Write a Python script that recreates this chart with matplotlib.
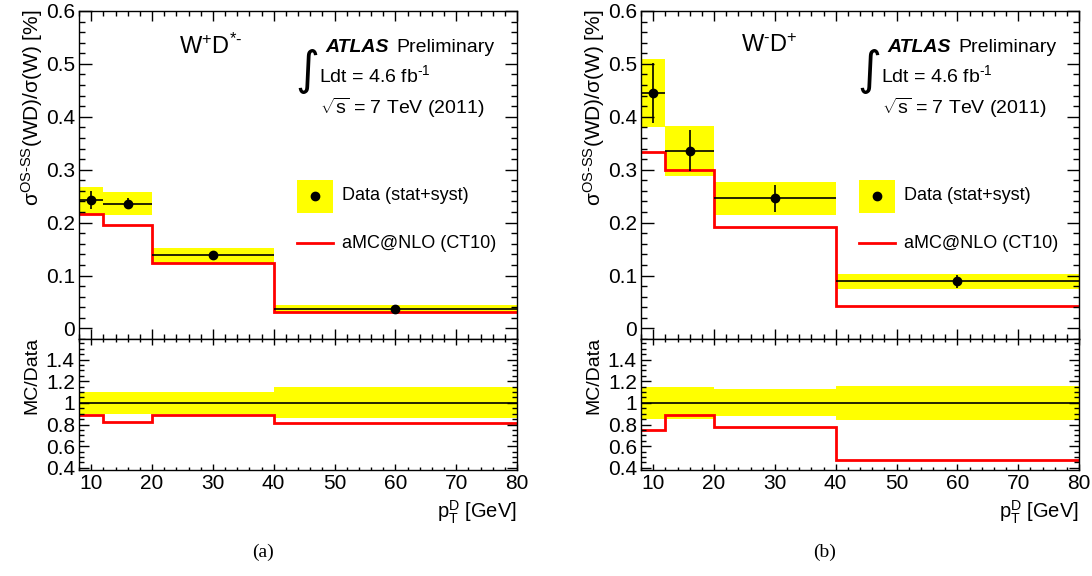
import matplotlib
matplotlib.use('Agg')
import matplotlib.pyplot as plt
from matplotlib.patches import Rectangle
from matplotlib.lines import Line2D
from matplotlib.ticker import MultipleLocator, FormatStrFormatter

plt.rcParams['font.family'] = ['Liberation Sans', 'DejaVu Sans']
plt.rcParams['mathtext.fontset'] = 'custom'
plt.rcParams['mathtext.rm'] = 'Liberation Sans'
plt.rcParams['mathtext.it'] = 'Liberation Sans:italic'
plt.rcParams['mathtext.bf'] = 'Liberation Sans:bold'

# pT(D) bins [GeV]
edges = [8, 12, 20, 40, 80]
centres = [10, 16, 30, 60]

# W+D*- : sigma(OS-SS)(WD)/sigma(W) [%]
dstar_data = [0.242, 0.236, 0.138, 0.037]
dstar_stat = [0.017, 0.010, 0.004, 0.002]
dstar_tot = [0.026, 0.022, 0.014, 0.007]
dstar_mc = [0.217, 0.195, 0.124, 0.031]
dstar_ratio = [0.89, 0.82, 0.886, 0.81]
dstar_ratio_err = [0.105, 0.10, 0.10, 0.143]

# W-D+
dplus_data = [0.445, 0.336, 0.246, 0.089]
dplus_stat = [0.056, 0.039, 0.025, 0.012]
dplus_tot = [0.065, 0.047, 0.031, 0.014]
dplus_mc = [0.334, 0.300, 0.192, 0.042]
dplus_ratio = [0.75, 0.89, 0.774, 0.47]
dplus_ratio_err = [0.145, 0.145, 0.125, 0.16]

W, H = 1092, 576
fig = plt.figure(figsize=(W / 100, H / 100), dpi=100)


def fx(px):
    return px / W


def fy(py):
    return 1 - py / H


def style_axes(ax, ymaj, ymin, ylen, xlen):
    ax.set_xlim(8, 80)
    ax.xaxis.set_major_locator(MultipleLocator(10))
    ax.xaxis.set_minor_locator(MultipleLocator(2))
    ax.yaxis.set_major_locator(MultipleLocator(ymaj))
    ax.yaxis.set_minor_locator(MultipleLocator(ymin))
    ax.yaxis.set_major_formatter(FormatStrFormatter('%g'))
    ax.tick_params(which='both', direction='in', top=True, right=True,
                   width=1, labelsize=15, pad=3)
    ax.tick_params(axis='y', which='major', length=ylen)
    ax.tick_params(axis='y', which='minor', length=ylen / 2)
    ax.tick_params(axis='x', which='major', length=xlen)
    ax.tick_params(axis='x', which='minor', length=xlen / 2)
    for s in ax.spines.values():
        s.set_linewidth(1)


def draw_panel(x0, data, stat, tot, mc, ratio, ratio_err, title, tag):
    left = fx(x0)
    width = 438 / W
    top = fig.add_axes([left, fy(339), width, 328 / H])
    bot = fig.add_axes([left, fy(470), width, 131 / H])

    # upper: cross-section ratio
    for i in range(len(centres)):
        top.fill_between([edges[i], edges[i + 1]], data[i] - tot[i], data[i] + tot[i],
                         color='#ffff00', lw=0)
    top.stairs(mc, edges, baseline=None, color='#ff0000', lw=2)
    xerr = [[c - edges[i] for i, c in enumerate(centres)],
            [edges[i + 1] - c for i, c in enumerate(centres)]]
    top.errorbar(centres, data, xerr=xerr, yerr=stat, fmt='o', color='black',
                 ms=6, elinewidth=1.2, capsize=0)
    top.set_ylim(-0.02, 0.6)
    style_axes(top, 0.1, 0.02, 9, 7)
    top.tick_params(labelbottom=False)

    # lower: MC/Data
    for i in range(len(centres)):
        bot.fill_between([edges[i], edges[i + 1]], 1 - ratio_err[i], 1 + ratio_err[i],
                         color='#ffff00', lw=0)
    bot.axhline(1, color='black', lw=1.2)
    bot.stairs(ratio, edges, baseline=None, color='#ff0000', lw=2)
    bot.set_ylim(0.38, 1.59)
    style_axes(bot, 0.2, 0.05, 7, 4)

    off = x0 - 79
    fig.text(fx(32 + off), fy(10), r'σ$^{\text{OS-SS}}$(WD)/σ(W) [%]',
             rotation=90, ha='center', va='top', fontsize=15)
    fig.text(fx(32 + off), fy(337), 'MC/Data', rotation=90, ha='center', va='top',
             fontsize=14)
    fig.text(fx(517 + off), fy(518), r'$\mathrm{p}_{\mathrm{T}}^{\mathrm{D}}$ [GeV]',
             ha='right', va='baseline', fontsize=14.5)

    fig.text(fx(179 + off), fy(46), title, ha='left', va='center', fontsize=17)
    fig.text(fx(325 + off), fy(52), 'ATLAS', ha='left', va='baseline', fontsize=14,
             fontweight='bold', fontstyle='italic')
    fig.text(fx(396 + off), fy(52), 'Preliminary', ha='left', va='baseline', fontsize=14)
    fig.text(fx(307 + off), fy(72), '∫', ha='center', va='center', fontsize=33,
             family=['DejaVu Sans'])
    fig.text(fx(319 + off), fy(82), r'Ldt = 4.6 fb$^{\text{-1}}$', ha='left',
             va='baseline', fontsize=14)
    fig.text(fx(320 + off), fy(114), r'$\sqrt{\mathrm{s}}$ = 7 TeV (2011)', ha='left',
             va='baseline', fontsize=14)

    # legend
    fig.add_artist(Rectangle((fx(297 + off), fy(213)), 36 / W, 33 / H,
                             transform=fig.transFigure, color='#ffff00', lw=0))
    fig.add_artist(Line2D([fx(315 + off)], [fy(196)], marker='o', ms=6, color='black',
                          transform=fig.transFigure))
    fig.text(fx(342 + off), fy(196), 'Data (stat+syst)', ha='left', va='center',
             fontsize=13)
    fig.add_artist(Line2D([fx(297 + off), fx(333 + off)], [fy(243), fy(243)],
                          color='#ff0000', lw=2, transform=fig.transFigure))
    fig.text(fx(342 + off), fy(243), 'aMC@NLO (CT10)', ha='left', va='center',
             fontsize=13)

    fig.text(fx(tag[1]), fy(557), tag[0], ha='center', va='baseline', fontsize=14,
             family='Liberation Serif')


draw_panel(79, dstar_data, dstar_stat, dstar_tot, dstar_mc, dstar_ratio,
           dstar_ratio_err, r'W$^{+}$D$^{*\text{-}}$', ('(a)', 263))
draw_panel(641, dplus_data, dplus_stat, dplus_tot, dplus_mc, dplus_ratio,
           dplus_ratio_err, r'W$^{\text{-}}$D$^{+}$', ('(b)', 825))

fig.savefig('out.png', dpi=100)
